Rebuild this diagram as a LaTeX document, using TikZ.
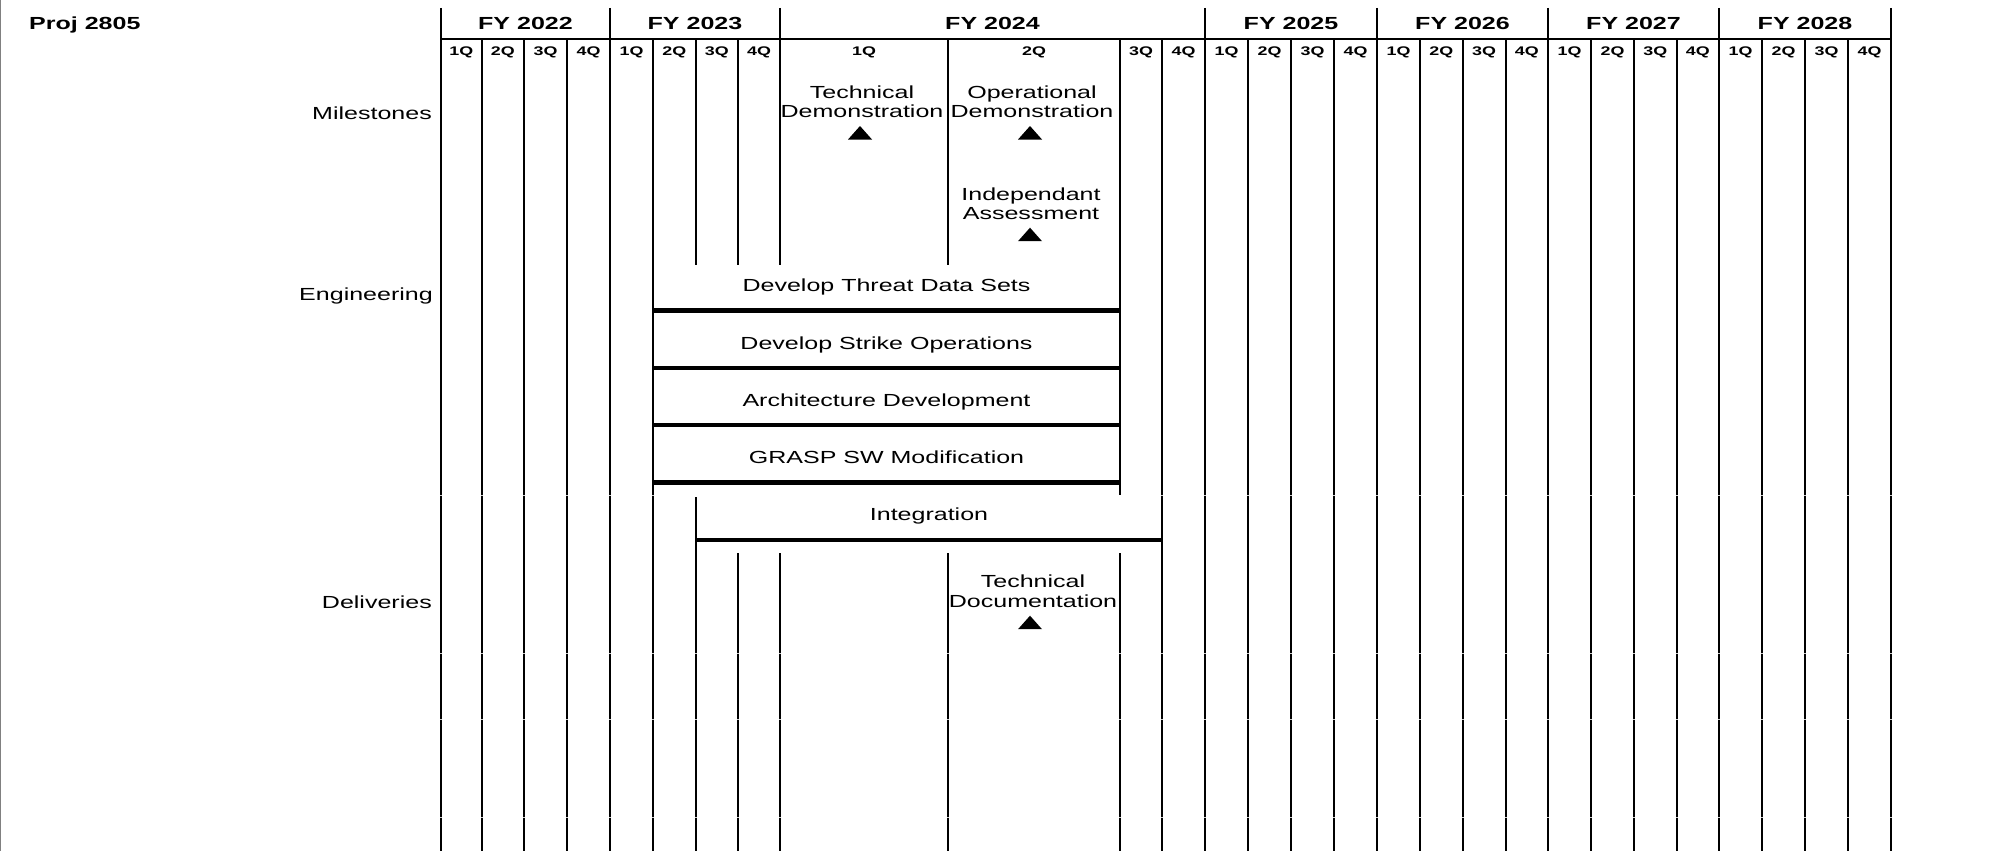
\documentclass[tikz,border=0pt]{standalone}
\usepackage{fontspec}
\setmainfont{Liberation Sans}[FakeStretch=1.43]
\begin{document}
\begin{tikzpicture}[x=1pt,y=-1pt,
  gridline/.style={line width=2pt},
  barline/.style={line width=4.4pt},
  txt/.style={font=\fontsize{17.5}{19.7}\selectfont, inner sep=0pt, anchor=base},
  yrlbl/.style={font=\bfseries\fontsize{17.5}{20}\selectfont, inner sep=0pt, anchor=base},
  qtrlbl/.style={font=\bfseries\fontsize{12.5}{14}\selectfont, inner sep=0pt, anchor=base},
  rowlbl/.style={font=\fontsize{17.5}{20}\selectfont, inner sep=0pt, anchor=base east},
  rowgap/.style={white, line width=1.3pt, opacity=0.8},
  trifill/.style={fill=black}
]
\useasboundingbox (0,0) rectangle (2015,851);
\fill[white] (0,0) rectangle (2015,851);
% left border
\draw[gray, line width=1.2pt] (0.6,0) -- (0.6,851);

% title
\node[yrlbl, anchor=base west] (proj) at (29,30) {Proj 2805};

% header ticks and line
\foreach \x in {441,610,780,1205,1377,1548,1719,1891}
  \draw[gridline] (\x,8) -- (\x,39);
\draw[gridline] (440,39) -- (1892,39);

% year labels
\foreach \a/\b/\yr in {441/610/2022,610/780/2023,780/1205/2024,1205/1377/2025,1377/1548/2026,1548/1719/2027,1719/1891/2028}
  \node[yrlbl] (fy\yr) at ({(\a+\b)/2},30) {FY \yr};

% quarter labels
\foreach \a/\b [count=\i] in {441/481.5,481.5/524,524/567,567/610,
  610/653,653/695.5,695.5/738,738/780,
  780/948,948/1120,1120/1162,1162/1205,
  1205/1248,1248/1291,1291/1334,1334/1377,
  1377/1420,1420/1462.5,1462.5/1505.5,1505.5/1548,
  1548/1591,1591/1634,1634/1676.5,1676.5/1719,
  1719/1762,1762/1805,1805/1848,1848/1891}{
  \pgfmathtruncatemacro\q{mod(\i-1,4)+1}
  \node[qtrlbl] (q\i) at ({(\a+\b)/2},55.5) {\q Q};
}

% full grid lines
\foreach \x in {441,481.5,524,567,610,653,1162,1205,1248,1291,1334,1377,1420,1462.5,1505.5,1548,1591,1634,1676.5,1719,1762,1805,1848,1891}
  \draw[gridline] (\x,40.5) -- (\x,851);
% broken grid lines
\draw[gridline] (695.5,40.5) -- (695.5,265) (695.5,497) -- (695.5,851);
\foreach \x in {738,780,948}
  \draw[gridline] (\x,40.5) -- (\x,265) (\x,553) -- (\x,851);
\draw[gridline] (1120,40.5) -- (1120,495) (1120,553) -- (1120,851);

% row gaps
\foreach \y in {495.5,653.5,719.5,817.5}
  \draw[rowgap] (435,\y) -- (1897,\y);

% row labels
\node[rowlbl] (milestones) at (432,119) {Milestones};
\node[rowlbl] (engineering) at (433,300) {Engineering};
\node[rowlbl] (deliveries) at (432,608) {Deliveries};

% milestones
\node[txt] (techdemo) at (862,98) {\begin{tabular}[t]{@{}c@{}}Technical\\Demonstration\end{tabular}};
\fill[trifill] (848,139.5) -- (872,139.5) -- (860,126) -- cycle;
\node[txt] (opdemo) at (1032,98) {\begin{tabular}[t]{@{}c@{}}Operational\\Demonstration\end{tabular}};
\fill[trifill] (1018,139.5) -- (1042,139.5) -- (1030,126) -- cycle;
\node[txt] (indep) at (1031,200) {\begin{tabular}[t]{@{}c@{}}Independant\\Assessment\end{tabular}};
\fill[trifill] (1018,241.2) -- (1042,241.2) -- (1030,227.7) -- cycle;

% engineering bars
\node[txt] (threat) at (886.5,291.8) {Develop Threat Data Sets};
\draw[barline] (653,310.5) -- (1120,310.5);
\node[txt] (strike) at (886.5,349.2) {Develop Strike Operations};
\draw[barline] (653,367.7) -- (1120,367.7);
\node[txt] (arch) at (886.5,406.5) {Architecture Development};
\draw[barline] (653,425) -- (1120,425);
\node[txt] (grasp) at (886.5,463.5) {GRASP SW Modification};
\draw[barline] (653,482.3) -- (1120,482.3);
\node[txt] (integ) at (929,520.8) {Integration};
\draw[barline] (695.5,540) -- (1162,540);

% deliveries
\node[txt] (techdoc) at (1033,587.5) {\begin{tabular}[t]{@{}c@{}}Technical\\Documentation\end{tabular}};
\fill[trifill] (1018,629.2) -- (1042,629.2) -- (1030,615.7) -- cycle;
\end{tikzpicture}
\end{document}
